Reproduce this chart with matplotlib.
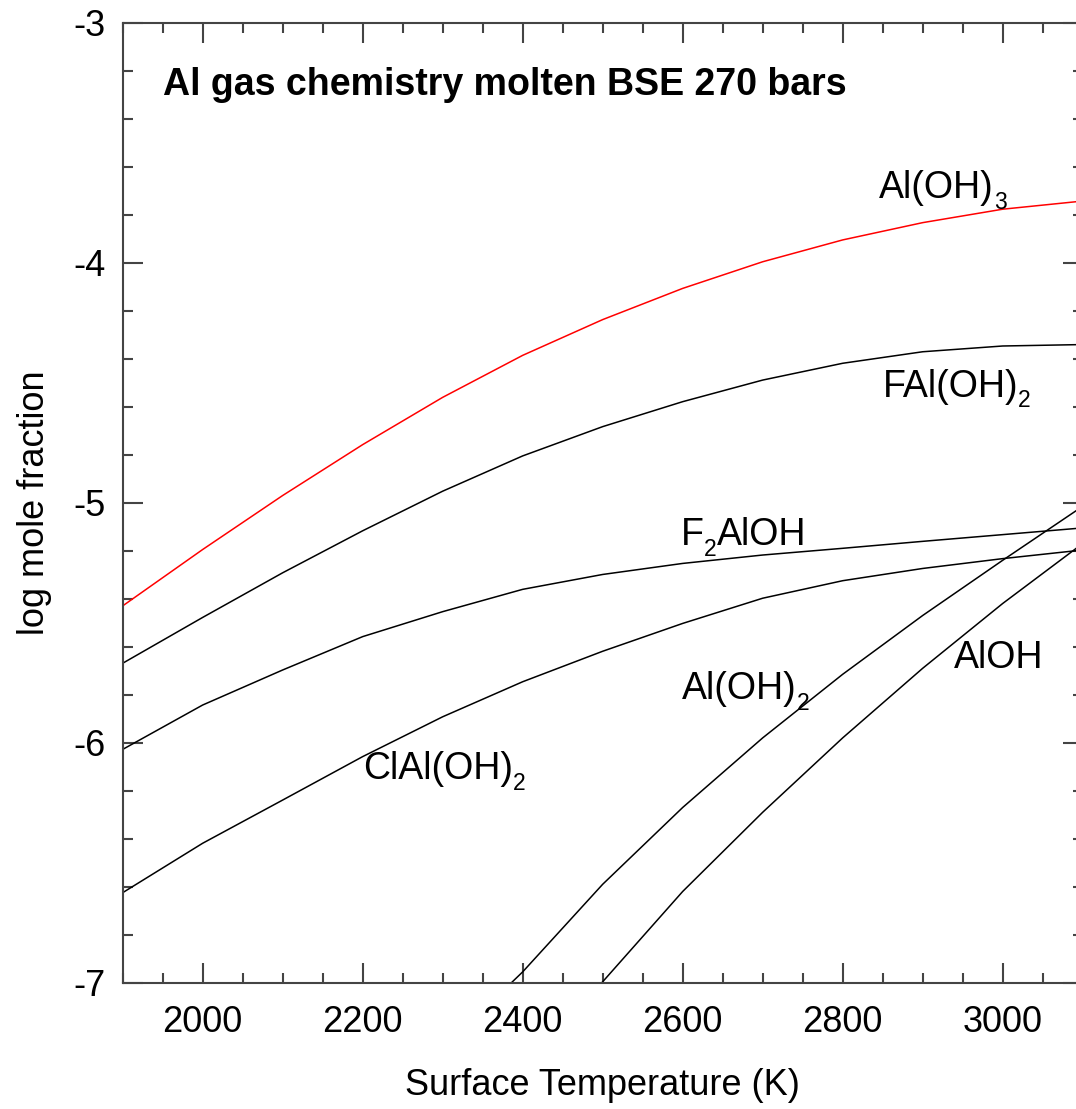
import numpy as np
import matplotlib
matplotlib.use('Agg')
import matplotlib.pyplot as plt
from matplotlib.ticker import MultipleLocator, FormatStrFormatter
from matplotlib.transforms import offset_copy

plt.rcParams['font.family'] = ['Liberation Sans', 'DejaVu Sans']

# surface temperature (K)
temp = [1900, 2000, 2100, 2200, 2300, 2400, 2500, 2600, 2700, 2800, 2900, 3000, 3100]

# log mole fractions
al_oh3 = [-5.43, -5.195, -4.97, -4.758, -4.561, -4.386, -4.237, -4.107, -3.996, -3.905, -3.833, -3.777, -3.743]
fal_oh2 = [-5.669, -5.478, -5.292, -5.117, -4.952, -4.805, -4.683, -4.579, -4.489, -4.419, -4.371, -4.347, -4.341]
f2aloh = [-6.028, -5.843, -5.697, -5.558, -5.454, -5.361, -5.299, -5.253, -5.218, -5.190, -5.161, -5.133, -5.105]
clal_oh2 = [-6.625, -6.419, -6.239, -6.058, -5.892, -5.746, -5.619, -5.503, -5.398, -5.325, -5.274, -5.233, -5.197]

temp_aloh2 = [2386, 2400, 2500, 2600, 2700, 2800, 2900, 3000, 3100]
al_oh2 = [-7.0, -6.955, -6.59, -6.27, -5.98, -5.715, -5.47, -5.24, -5.015]

temp_aloh = [2499, 2600, 2700, 2800, 2900, 3000, 3100]
aloh = [-7.0, -6.62, -6.29, -5.98, -5.69, -5.42, -5.17]

fig = plt.figure(figsize=(10.76, 11.09), dpi=100)
ax = fig.add_axes([0.114, 0.1139, 0.8922, 0.8656])

lw = 1.1
ax.plot(temp, al_oh3, color='red', lw=lw)
ax.plot(temp, fal_oh2, color='black', lw=lw)
ax.plot(temp, f2aloh, color='black', lw=lw)
ax.plot(temp, clal_oh2, color='black', lw=lw)
ax.plot(temp_aloh2, al_oh2, color='black', lw=lw)
ax.plot(temp_aloh, aloh, color='black', lw=lw)

ax.set_xlim(1900, 3100)
ax.set_ylim(-7, -3)
ax.xaxis.set_major_locator(MultipleLocator(200))
ax.xaxis.set_minor_locator(MultipleLocator(50))
ax.yaxis.set_major_locator(MultipleLocator(1))
ax.yaxis.set_minor_locator(MultipleLocator(0.2))
ax.xaxis.set_major_formatter(FormatStrFormatter('%d'))
ax.yaxis.set_major_formatter(FormatStrFormatter('%d'))

spine_col = '#444444'
for s in ax.spines.values():
    s.set_color(spine_col)
    s.set_linewidth(1.5)
ax.tick_params(which='both', direction='in', top=True, right=True,
               color=spine_col, width=1.5, labelsize=26, labelcolor='black')
ax.tick_params(which='major', length=14.4)
ax.tick_params(which='minor', length=7.2)
ax.tick_params(axis='x', pad=16)
ax.tick_params(axis='y', pad=12)

ax.set_xlabel('Surface Temperature (K)', fontsize=26, labelpad=20)
ax.set_ylabel('log mole fraction', fontsize=26, labelpad=16)

ax.text(1950.4, -3.301, 'Al gas chemistry molten BSE 270 bars', fontsize=27,
        fontweight='bold', ha='left', va='baseline')

renderer = fig.canvas.get_renderer()


def formula(x, y, parts, fs=27, sub_fs=16.5, drop=7.7):
    # write text pieces one after another, subscripts smaller and lowered
    off = 0.0
    for txt, sub in parts:
        tr = offset_copy(ax.transData, fig=fig, x=off, y=-drop if sub else 0, units='points')
        t = ax.text(x, y, txt, fontsize=sub_fs if sub else fs, transform=tr,
                    ha='left', va='baseline')
        off += t.get_window_extent(renderer).width * 72.0 / fig.dpi


formula(2845.8, -3.732, [('Al(OH)', False), ('3', True)])
formula(2850, -4.558, [('FAl(OH)', False), ('2', True)])
formula(2597.9, -5.176, [('F', False), ('2', True), ('AlOH', False)])
formula(2200.8, -6.153, [('ClAl(OH)', False), ('2', True)])
formula(2599, -5.819, [('Al(OH)', False), ('2', True)])
formula(2939.5, -5.69, [('AlOH', False)])

fig.savefig('out.png', dpi=100)
